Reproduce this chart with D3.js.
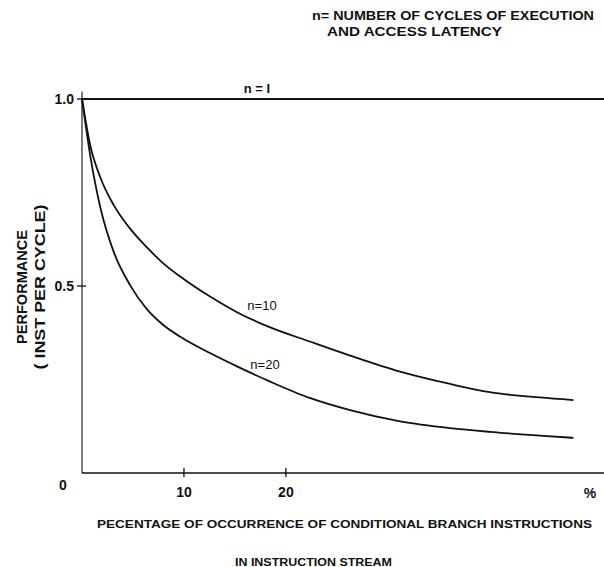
<!DOCTYPE html>
<html><head><meta charset="utf-8">
<script src="https://cdn.jsdelivr.net/npm/d3@7"></script>
<style>body{margin:0;background:#fff}svg{display:block}text{font-family:"Liberation Sans",Arial,sans-serif;fill:#111}</style>
</head><body>
<script>
const pct = [0, 0.8, 1.8, 3.1, 4.7, 6.3, 8.0, 9.6, 12.6, 15.2, 18.4, 22.4, 26.3, 31.2, 36.1, 40, 44.9, 48.2];
const n10 = [1.0, 0.877, 0.79, 0.717, 0.654, 0.605, 0.560, 0.526, 0.471, 0.43, 0.39, 0.351, 0.314, 0.271, 0.238, 0.216, 0.202, 0.195];
const n20 = [1.0, 0.85, 0.71, 0.592, 0.503, 0.44, 0.395, 0.365, 0.32, 0.285, 0.245, 0.20, 0.168, 0.138, 0.12, 0.11, 0.10, 0.094];
const n1x = [0, 51.2];
const n1 = [1.0, 1.0];
const xTicks = [10, 20];
const yTicks = [0.5, 1.0];
const yTickLabels = ["0.5", "1.0"];
const seriesLabels = ["n=10", "n=20", "n = I"];

const W = 604, H = 567;
const svg = d3.select("body").append("svg").attr("width", W).attr("height", H);
const x = d3.scaleLinear().domain([0, 51.2]).range([82, 604]);
const y = d3.scaleLinear().domain([0, 1]).range([473, 99]);

// axes
svg.append("line").attr("x1", x(0)).attr("x2", x(0)).attr("y1", y(1.02)).attr("y2", y(0))
  .attr("stroke", "#222").attr("stroke-width", 1.2);
svg.append("line").attr("x1", x(0)).attr("x2", x(51.2)).attr("y1", y(0)).attr("y2", y(0))
  .attr("stroke", "#111").attr("stroke-width", 1.6);

// y ticks (crosses)
yTicks.forEach((t, i) => {
  svg.append("line").attr("x1", x(0) - 5).attr("x2", x(0) + 4).attr("y1", y(t)).attr("y2", y(t))
    .attr("stroke", "#111").attr("stroke-width", 1.3);
  svg.append("text").attr("x", 74).attr("y", y(t) + 5).attr("text-anchor", "end")
    .attr("font-size", 14).attr("font-weight", "bold").text(yTickLabels[i]);
});
// x ticks
xTicks.forEach(t => {
  svg.append("line").attr("x1", x(t)).attr("x2", x(t)).attr("y1", y(0) - 5).attr("y2", y(0) + 4)
    .attr("stroke", "#111").attr("stroke-width", 1.3);
  svg.append("text").attr("x", x(t)).attr("y", 497).attr("text-anchor", "middle")
    .attr("font-size", 14).attr("font-weight", "bold").text(t);
});
svg.append("text").attr("x", 63).attr("y", 490).attr("text-anchor", "middle")
  .attr("font-size", 14).attr("font-weight", "bold").text("0");
svg.append("text").attr("x", 590).attr("y", 498).attr("text-anchor", "middle")
  .attr("font-size", 14).attr("font-weight", "bold").text("%");

// curves
const line = d3.line().x(d => x(d[0])).y(d => y(d[1])).curve(d3.curveMonotoneX);
svg.append("path").datum(n1x.map((v, i) => [v, n1[i]])).attr("d", line)
  .attr("fill", "none").attr("stroke", "#111").attr("stroke-width", 1.8);
[n10, n20].forEach(s => {
  svg.append("path").datum(pct.map((v, i) => [v, s[i]])).attr("d", line)
    .attr("fill", "none").attr("stroke", "#111").attr("stroke-width", 1.8);
});

// series labels
svg.append("text").attr("x", 262).attr("y", 310).attr("text-anchor", "middle")
  .attr("font-size", 13).text(seriesLabels[0]);
svg.append("text").attr("x", 265).attr("y", 369).attr("text-anchor", "middle")
  .attr("font-size", 13).text(seriesLabels[1]);
svg.append("text").attr("x", 257).attr("y", 93).attr("text-anchor", "middle")
  .attr("font-size", 13).attr("font-weight", "bold").text(seriesLabels[2]);

// top note
svg.append("text").attr("x", 312).attr("y", 20).attr("font-size", 13).attr("font-weight", "bold")
  .attr("textLength", 282).attr("lengthAdjust", "spacingAndGlyphs").text("n= NUMBER OF CYCLES OF EXECUTION");
svg.append("text").attr("x", 327).attr("y", 36).attr("font-size", 13).attr("font-weight", "bold")
  .attr("textLength", 175).attr("lengthAdjust", "spacingAndGlyphs").text("AND ACCESS LATENCY");

// y title
const yt = svg.append("g").attr("transform", "translate(0,287) rotate(-90)");
yt.append("text").attr("x", 0).attr("y", 27).attr("text-anchor", "middle").attr("font-size", 14)
  .attr("font-weight", "bold").attr("textLength", 114).attr("lengthAdjust", "spacingAndGlyphs").text("PERFORMANCE");
yt.append("text").attr("x", 0).attr("y", 45).attr("text-anchor", "middle").attr("font-size", 14)
  .attr("font-weight", "bold").attr("textLength", 165).attr("lengthAdjust", "spacingAndGlyphs").text("( INST PER CYCLE)");

// x title
svg.append("text").attr("x", 97).attr("y", 528).attr("font-size", 11).attr("font-weight", "900")
  .attr("textLength", 495).attr("lengthAdjust", "spacingAndGlyphs")
  .text("PECENTAGE OF OCCURRENCE OF CONDITIONAL BRANCH INSTRUCTIONS");
svg.append("text").attr("x", 235).attr("y", 566).attr("font-size", 11).attr("font-weight", "900")
  .attr("textLength", 157).attr("lengthAdjust", "spacingAndGlyphs").text("IN INSTRUCTION STREAM");
</script>
</body></html>
